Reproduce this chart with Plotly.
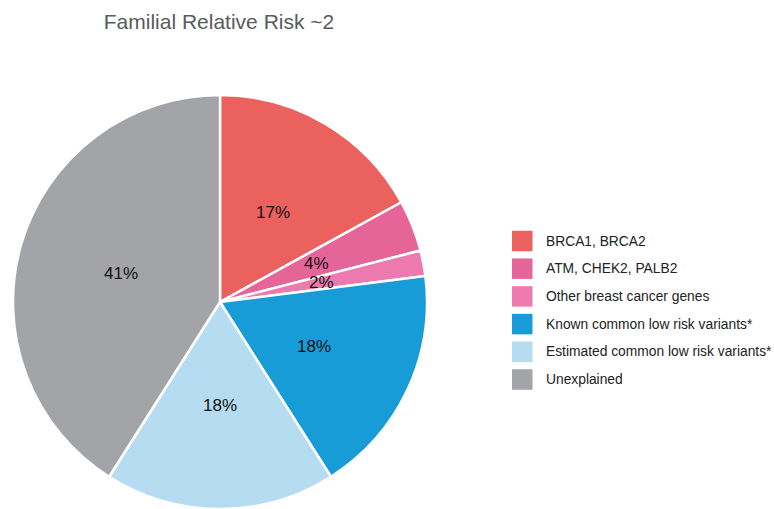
import math
import plotly.graph_objects as go

labels = ["BRCA1, BRCA2", "ATM, CHEK2, PALB2", "Other breast cancer genes",
          "Known common low risk variants*", "Estimated common low risk variants*", "Unexplained"]
values = [17, 4, 2, 18, 18, 41]
colors = ["#EB615E", "#E56599", "#EC7AAE", "#189CD8", "#B5DCF0", "#A2A4A7"]

W, H = 774, 509
FONT = "Liberation Sans, Arial, sans-serif"

# pie geometry in pixels
dom_x = (12, 428)
dom_y_top = 95
cx = (dom_x[0] + dom_x[1]) / 2
cy = (dom_y_top + H) / 2
R = min(dom_x[1] - dom_x[0], H - dom_y_top) / 2

fig = go.Figure(go.Pie(
    labels=labels,
    values=values,
    sort=False,
    direction="clockwise",
    rotation=0,
    marker=dict(colors=colors, line=dict(color="white", width=2.5)),
    textinfo="none",
    domain=dict(x=[dom_x[0] / W, dom_x[1] / W], y=[0, 1 - dom_y_top / H]),
    hoverinfo="label+percent",
    showlegend=False,
))

annotations = []
shapes = []
total = sum(values)
cum = 0
for v in values:
    mid = (cum + v / 2) / total * 2 * math.pi
    cum += v
    px = cx + 0.5 * R * math.sin(mid)
    py = cy - 0.5 * R * math.cos(mid)
    annotations.append(dict(
        x=px / W, y=1 - py / H, xref="paper", yref="paper",
        text=f"{v}%", showarrow=False, xanchor="center", yanchor="middle",
        font=dict(family=FONT, size=17, color="#111111"),
    ))

# legend (manual, to match swatch size and spacing)
sw_x0, sw_size, first_cy, step, text_x = 512, 20.5, 241, 27.7, 544
for i, (lab, col) in enumerate(zip(labels, colors)):
    yc = first_cy + i * step
    shapes.append(dict(
        type="rect", xref="paper", yref="paper",
        x0=sw_x0 / W, x1=(sw_x0 + sw_size) / W,
        y0=1 - (yc - sw_size / 2) / H, y1=1 - (yc + sw_size / 2) / H,
        fillcolor=col, line=dict(width=0),
    ))
    annotations.append(dict(
        x=text_x / W, y=1 - yc / H, xref="paper", yref="paper",
        text=lab, showarrow=False, xanchor="left", yanchor="middle",
        font=dict(family=FONT, size=13.8, color="#222222"),
    ))

fig.update_layout(
    width=W, height=H,
    margin=dict(l=0, r=0, t=0, b=0),
    paper_bgcolor="white",
    plot_bgcolor="white",
    title=dict(text="Familial Relative Risk ~2", x=219 / W, xanchor="center",
               y=1 - 22 / H, yanchor="middle", yref="container",
               font=dict(family=FONT, size=21, color="#5A5A5A")),
    annotations=annotations,
    shapes=shapes,
)

fig.write_html(
    "out.html",
    config={"displayModeBar": False},
    post_script="document.body.style.margin='0';document.body.style.overflow='hidden';",
)
